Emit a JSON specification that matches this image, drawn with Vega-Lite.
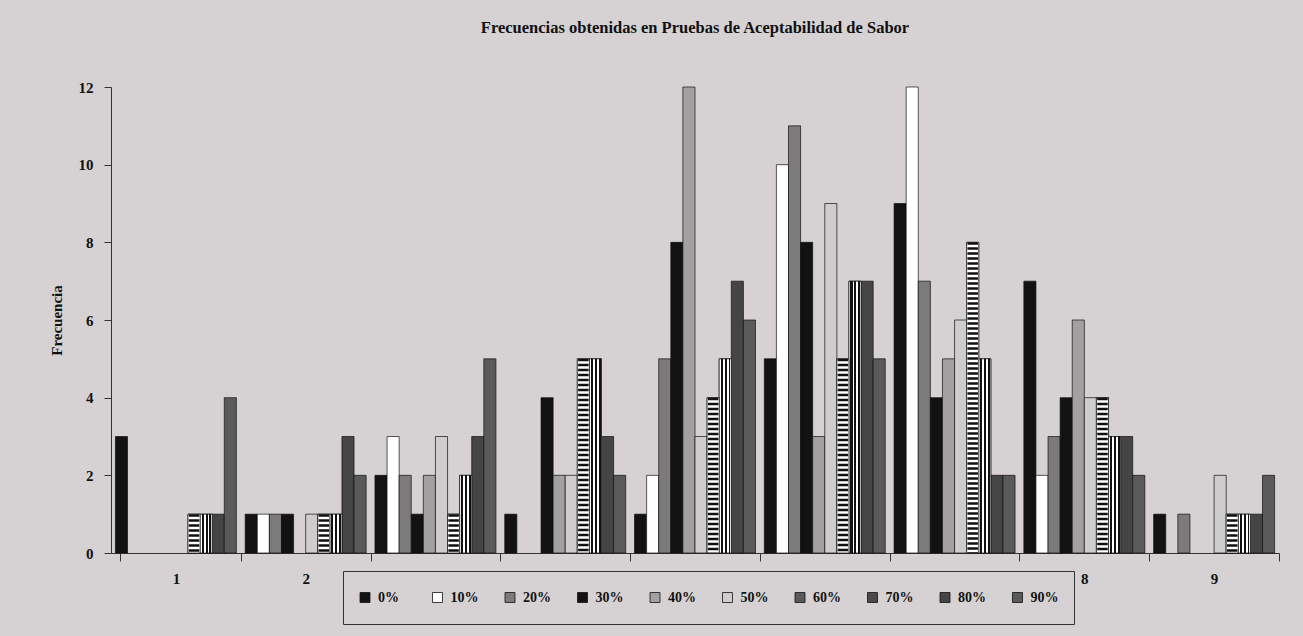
{
  "$schema": "https://vega.github.io/schema/vega-lite/v6.json",
  "width": 1168,
  "height": 466,
  "autosize": {"type": "none"},
  "padding": {"left": 111, "top": 87, "right": 24, "bottom": 83},
  "background": "#d6d1d3",
  "title": {
    "text": "Frecuencias obtenidas en Pruebas de Aceptabilidad de Sabor",
    "font": "Liberation Serif",
    "fontSize": 16.5,
    "fontWeight": "bold",
    "color": "#111111",
    "anchor": "middle",
    "offset": 44
  },
  "config": {
    "view": {"stroke": null},
    "axis": {
      "domainColor": "#333333",
      "tickColor": "#333333",
      "labelColor": "#111111",
      "titleColor": "#111111",
      "labelFont": "Liberation Serif",
      "titleFont": "Liberation Serif",
      "labelFontWeight": "bold",
      "titleFontWeight": "bold",
      "grid": false
    }
  },
  "data": {
    "values": [
      {"c": "1", "s": "0%", "v": 3},
      {"c": "1", "s": "60%", "v": 1},
      {"c": "1", "s": "70%", "v": 1},
      {"c": "1", "s": "80%", "v": 1},
      {"c": "1", "s": "90%", "v": 4},
      {"c": "2", "s": "0%", "v": 1},
      {"c": "2", "s": "10%", "v": 1},
      {"c": "2", "s": "20%", "v": 1},
      {"c": "2", "s": "30%", "v": 1},
      {"c": "2", "s": "50%", "v": 1},
      {"c": "2", "s": "60%", "v": 1},
      {"c": "2", "s": "70%", "v": 1},
      {"c": "2", "s": "80%", "v": 3},
      {"c": "2", "s": "90%", "v": 2},
      {"c": "3", "s": "0%", "v": 2},
      {"c": "3", "s": "10%", "v": 3},
      {"c": "3", "s": "20%", "v": 2},
      {"c": "3", "s": "30%", "v": 1},
      {"c": "3", "s": "40%", "v": 2},
      {"c": "3", "s": "50%", "v": 3},
      {"c": "3", "s": "60%", "v": 1},
      {"c": "3", "s": "70%", "v": 2},
      {"c": "3", "s": "80%", "v": 3},
      {"c": "3", "s": "90%", "v": 5},
      {"c": "4", "s": "0%", "v": 1},
      {"c": "4", "s": "30%", "v": 4},
      {"c": "4", "s": "40%", "v": 2},
      {"c": "4", "s": "50%", "v": 2},
      {"c": "4", "s": "60%", "v": 5},
      {"c": "4", "s": "70%", "v": 5},
      {"c": "4", "s": "80%", "v": 3},
      {"c": "4", "s": "90%", "v": 2},
      {"c": "5", "s": "0%", "v": 1},
      {"c": "5", "s": "10%", "v": 2},
      {"c": "5", "s": "20%", "v": 5},
      {"c": "5", "s": "30%", "v": 8},
      {"c": "5", "s": "40%", "v": 12},
      {"c": "5", "s": "50%", "v": 3},
      {"c": "5", "s": "60%", "v": 4},
      {"c": "5", "s": "70%", "v": 5},
      {"c": "5", "s": "80%", "v": 7},
      {"c": "5", "s": "90%", "v": 6},
      {"c": "6", "s": "0%", "v": 5},
      {"c": "6", "s": "10%", "v": 10},
      {"c": "6", "s": "20%", "v": 11},
      {"c": "6", "s": "30%", "v": 8},
      {"c": "6", "s": "40%", "v": 3},
      {"c": "6", "s": "50%", "v": 9},
      {"c": "6", "s": "60%", "v": 5},
      {"c": "6", "s": "70%", "v": 7},
      {"c": "6", "s": "80%", "v": 7},
      {"c": "6", "s": "90%", "v": 5},
      {"c": "7", "s": "0%", "v": 9},
      {"c": "7", "s": "10%", "v": 12},
      {"c": "7", "s": "20%", "v": 7},
      {"c": "7", "s": "30%", "v": 4},
      {"c": "7", "s": "40%", "v": 5},
      {"c": "7", "s": "50%", "v": 6},
      {"c": "7", "s": "60%", "v": 8},
      {"c": "7", "s": "70%", "v": 5},
      {"c": "7", "s": "80%", "v": 2},
      {"c": "7", "s": "90%", "v": 2},
      {"c": "8", "s": "0%", "v": 7},
      {"c": "8", "s": "10%", "v": 2},
      {"c": "8", "s": "20%", "v": 3},
      {"c": "8", "s": "30%", "v": 4},
      {"c": "8", "s": "40%", "v": 6},
      {"c": "8", "s": "50%", "v": 4},
      {"c": "8", "s": "60%", "v": 4},
      {"c": "8", "s": "70%", "v": 3},
      {"c": "8", "s": "80%", "v": 3},
      {"c": "8", "s": "90%", "v": 2},
      {"c": "9", "s": "0%", "v": 1},
      {"c": "9", "s": "20%", "v": 1},
      {"c": "9", "s": "50%", "v": 2},
      {"c": "9", "s": "60%", "v": 1},
      {"c": "9", "s": "70%", "v": 1},
      {"c": "9", "s": "80%", "v": 1},
      {"c": "9", "s": "90%", "v": 2}
    ]
  },
  "encoding": {
    "x": {
      "field": "c",
      "type": "nominal",
      "scale": {"paddingInner": 0.068, "paddingOuter": 0.034},
      "axis": {
        "title": null,
        "labelAngle": 0,
        "labelFontSize": 15,
        "bandPosition": 1,
        "tickExtra": true,
        "tickOffset": 4.4,
        "labelOffset": -4.4,
        "tickSize": 8,
        "labelPadding": 10
      }
    },
    "xOffset": {
      "field": "s",
      "type": "nominal",
      "scale": {
        "domain": ["0%", "10%", "20%", "30%", "40%", "50%", "60%", "70%", "80%", "90%"],
        "paddingInner": 0,
        "paddingOuter": 0
      }
    },
    "y": {
      "field": "v",
      "type": "quantitative",
      "scale": {"domain": [0, 12]},
      "axis": {
        "title": "Frecuencia",
        "titleFontSize": 15,
        "titlePadding": 14,
        "values": [0, 2, 4, 6, 8, 10, 12],
        "labelFontSize": 15,
        "tickSize": 7,
        "labelPadding": 11
      }
    }
  },
  "layer": [
    {
      "mark": {"type": "bar", "stroke": "#111111", "strokeWidth": 0.7},
      "encoding": {
        "fill": {
          "field": "s",
          "type": "nominal",
          "scale": {
            "domain": ["0%", "10%", "20%", "30%", "40%", "50%", "60%", "70%", "80%", "90%"],
            "range": ["#121212", "#ffffff", "#7d7a7b", "#121212", "#a3a0a1", "#cfcccd", "#5a5a5a", "#4a4a4a", "#454545", "#5a5a5a"]
          },
          "legend": {
            "orient": "none",
            "legendX": 232,
            "legendY": 484,
            "direction": "horizontal",
            "columns": 10,
            "title": null,
            "symbolType": "square",
            "symbolSize": 100,
            "symbolStrokeColor": "#111111",
            "symbolStrokeWidth": 0.8,
            "labelFont": "Liberation Serif",
            "labelFontWeight": "bold",
            "labelFontSize": 14,
            "labelColor": "#111111",
            "labelOffset": 6,
            "columnPadding": 24.5,
            "gridAlign": "all",
            "clipHeight": 23,
            "padding": 15,
            "strokeColor": "#333333",
            "fillColor": "#d6d1d3"
          }
        }
      }
    },
    {
      "transform": [{"filter": "datum.s === '70%'"}],
      "mark": {
        "type": "bar",
        "stroke": "#111111",
        "strokeWidth": 0.7,
        "fill": {
          "gradient": "linear",
          "x1": 0, "y1": 0, "x2": 1, "y2": 0,
          "stops": [
            {"offset": 0, "color": "#ffffff"},
            {"offset": 0.12, "color": "#ffffff"},
            {"offset": 0.12, "color": "#111111"},
            {"offset": 0.3, "color": "#111111"},
            {"offset": 0.3, "color": "#ffffff"},
            {"offset": 0.45, "color": "#ffffff"},
            {"offset": 0.45, "color": "#111111"},
            {"offset": 0.62, "color": "#111111"},
            {"offset": 0.62, "color": "#ffffff"},
            {"offset": 0.77, "color": "#ffffff"},
            {"offset": 0.77, "color": "#111111"},
            {"offset": 0.92, "color": "#111111"},
            {"offset": 0.92, "color": "#ffffff"},
            {"offset": 1, "color": "#ffffff"}
          ]
        }
      }
    },
    {
      "transform": [{"filter": "datum.s === '60%'"}],
      "mark": {"type": "bar", "fill": "#ffffff", "stroke": "#111111", "strokeWidth": 0.7}
    },
    {
      "transform": [{"filter": "datum.s === '60%'"}],
      "mark": {"type": "rule", "color": "#111111", "strokeWidth": 10.5, "strokeDash": [2.5, 2.5], "strokeCap": "butt"},
      "encoding": {"y2": {"datum": 0}}
    }
  ]
}
